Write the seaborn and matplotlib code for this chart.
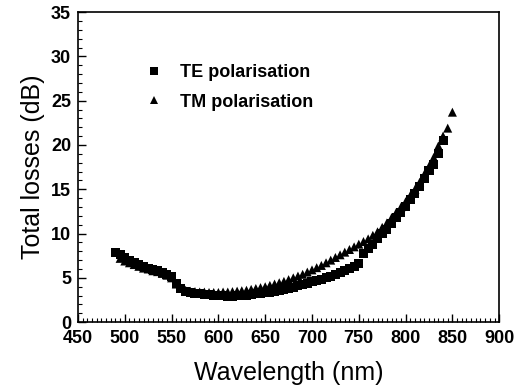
import numpy as np
import pandas as pd
import matplotlib
matplotlib.use("Agg")
import matplotlib.pyplot as plt
import seaborn as sns
from matplotlib.ticker import MultipleLocator

te_wavelength = [490, 495, 500, 505, 510, 515, 520, 525, 530, 535, 540, 545, 550, 555,
                 560, 565, 570, 575, 580, 585, 590, 595, 600, 605, 610, 615, 620, 625,
                 630, 635, 640, 645, 650, 655, 660, 665, 670, 675, 680, 685, 690, 695,
                 700, 705, 710, 715, 720, 725, 730, 735, 740, 745, 750, 755, 760, 765,
                 770, 775, 780, 785, 790, 795, 800, 805, 810, 815, 820, 825, 830, 835, 840]
te_loss = [7.9, 7.6, 7.3, 7.0, 6.7, 6.5, 6.3, 6.1, 5.9, 5.8, 5.6, 5.4, 5.1, 4.4,
           3.8, 3.5, 3.3, 3.25, 3.2, 3.15, 3.1, 3.05, 3.0, 3.0, 2.95, 2.95, 3.0, 3.0,
           3.05, 3.1, 3.2, 3.25, 3.3, 3.4, 3.5, 3.6, 3.7, 3.8, 3.95, 4.1, 4.25, 4.4,
           4.55, 4.7, 4.85, 5.0, 5.15, 5.35, 5.55, 5.8, 6.05, 6.3, 6.6, 7.7, 8.3, 8.8,
           9.4, 10.0, 10.5, 11.1, 11.8, 12.4, 13.0, 13.8, 14.5, 15.3, 16.2, 17.1, 17.8, 19.0, 20.5]

tm_wavelength = [495, 500, 505, 510, 515, 520, 525, 530, 535, 540, 545, 550, 555,
                 560, 565, 570, 575, 580, 585, 590, 595, 600, 605, 610, 615, 620, 625,
                 630, 635, 640, 645, 650, 655, 660, 665, 670, 675, 680, 685, 690, 695,
                 700, 705, 710, 715, 720, 725, 730, 735, 740, 745, 750, 755, 760, 765,
                 770, 775, 780, 785, 790, 795, 800, 805, 810, 815, 820, 825, 830, 835,
                 840, 845, 850]
tm_loss = [7.2, 6.9, 6.7, 6.5, 6.3, 6.1, 6.0, 5.8, 5.7, 5.5, 5.3, 5.0, 4.3,
           3.8, 3.6, 3.5, 3.45, 3.4, 3.4, 3.35, 3.35, 3.35, 3.4, 3.4, 3.45, 3.5, 3.55,
           3.6, 3.7, 3.8, 3.9, 4.0, 4.15, 4.3, 4.45, 4.6, 4.8, 5.0, 5.2, 5.4, 5.65,
           5.9, 6.15, 6.4, 6.7, 7.0, 7.3, 7.6, 7.9, 8.2, 8.5, 8.8, 9.1, 9.4, 9.8,
           10.2, 10.7, 11.2, 11.8, 12.4, 13.0, 13.6, 14.3, 15.0, 15.8, 16.7, 17.6, 18.6, 19.9,
           21.0, 21.9, 23.7]

series_labels = ["TE polarisation", "TM polarisation"]

df = pd.concat([
    pd.DataFrame({"Wavelength": te_wavelength, "Loss": te_loss, "Polarisation": series_labels[0]}),
    pd.DataFrame({"Wavelength": tm_wavelength, "Loss": tm_loss, "Polarisation": series_labels[1]}),
])

sns.set_theme(style="ticks")
plt.rcParams["font.family"] = ["Liberation Sans", "DejaVu Sans"]
plt.rcParams["text.color"] = "black"
plt.rcParams["axes.labelcolor"] = "black"

fig = plt.figure(figsize=(5.2, 3.9), dpi=100)
ax = fig.add_axes([0.15, 0.174, 0.81, 0.795])

sns.scatterplot(data=df, x="Wavelength", y="Loss", style="Polarisation",
                markers={series_labels[0]: "s", series_labels[1]: "^"},
                color="black", edgecolor="black", s=42, linewidth=0, ax=ax)

ax.set_xlim(450, 900)
ax.set_ylim(0, 35)
ax.xaxis.set_major_locator(MultipleLocator(50))
ax.xaxis.set_minor_locator(MultipleLocator(5))
ax.yaxis.set_major_locator(MultipleLocator(5))
ax.yaxis.set_minor_locator(MultipleLocator(1))
ax.tick_params(which="both", direction="in", top=False, right=False, labelsize=13, colors="black")
ax.tick_params(axis="x", which="major", pad=6)
ax.tick_params(axis="y", which="major", pad=5)
ax.tick_params(which="major", length=6, width=1)
ax.tick_params(which="minor", length=3, width=0.8)
for lab in ax.get_xticklabels() + ax.get_yticklabels():
    lab.set_fontweight("bold")
for sp in ax.spines.values():
    sp.set_visible(True)
    sp.set_linewidth(1.2)
    sp.set_color("black")

ax.set_xlabel("Wavelength (nm)", fontsize=18, labelpad=10)
ax.set_ylabel("Total losses (dB)", fontsize=18, labelpad=4)

leg = ax.legend(loc="upper left", bbox_to_anchor=(0.10, 0.885), frameon=False,
                prop={"size": 13, "weight": "bold"}, handletextpad=0.4,
                labelspacing=0.7, markerscale=0.85)

fig.savefig("out.png", dpi=100)
